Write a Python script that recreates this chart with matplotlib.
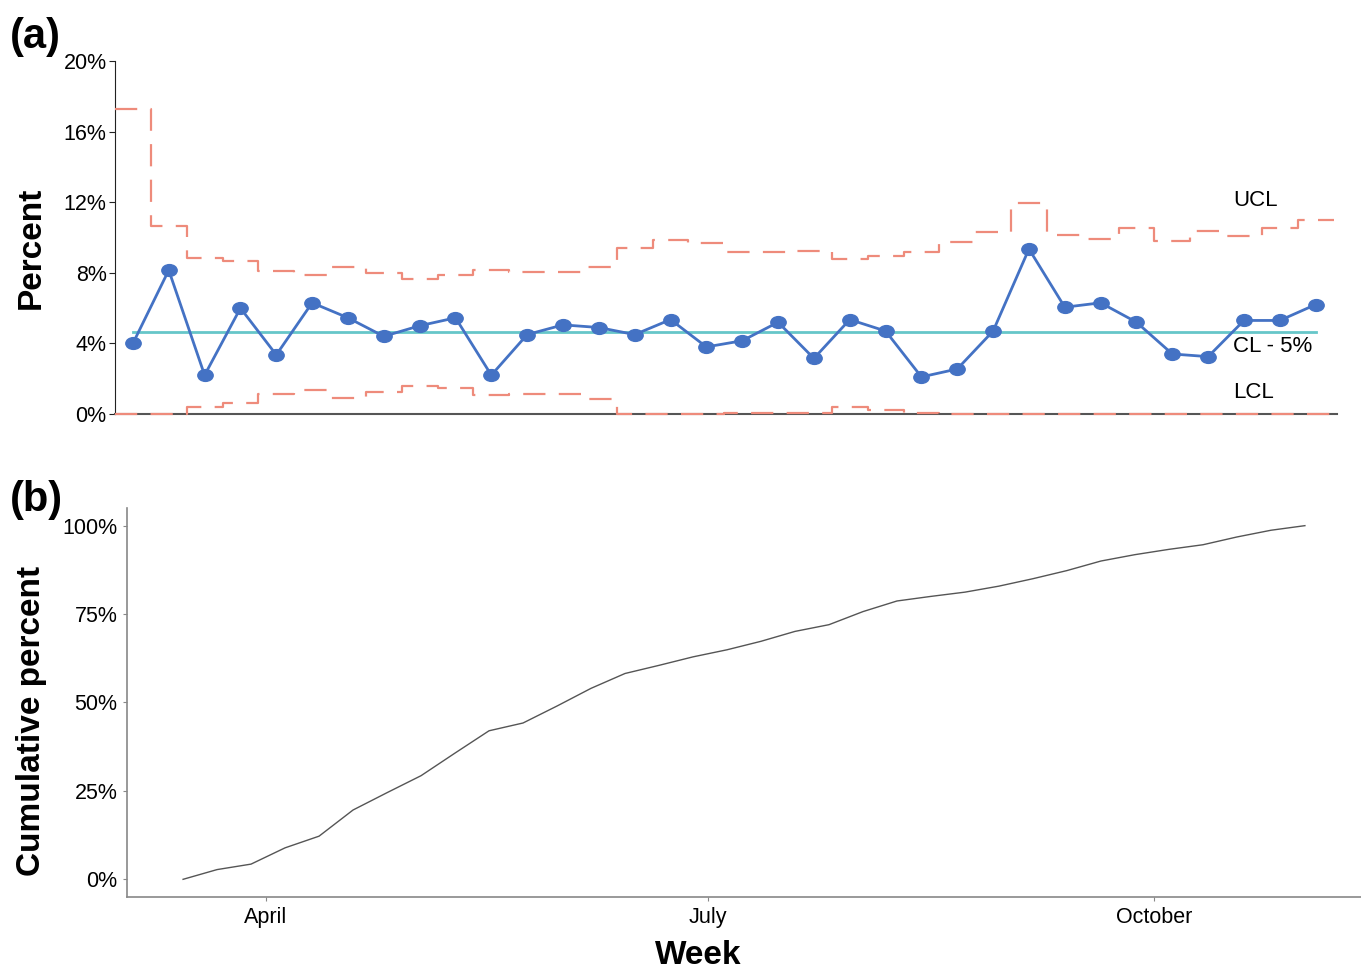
import numpy as np
import pandas as pd
import matplotlib
matplotlib.use("Agg")
import matplotlib.pyplot as plt
import matplotlib.dates as mdates
from matplotlib.markers import MarkerStyle
from matplotlib.transforms import Affine2D

plt.rcParams['font.family'] = ['Liberation Sans', 'DejaVu Sans']

# weekly p-chart data (percent)
week_idx = np.arange(1, 35)
pct = [4.0, 8.15, 2.2, 6.0, 3.35, 6.3, 5.45, 4.4, 5.0, 5.45,
       2.2, 4.5, 5.05, 4.9, 4.5, 5.35, 3.8, 4.15, 5.2, 3.15,
       5.35, 4.7, 2.1, 2.55, 4.7, 9.35, 6.05, 6.3, 5.2, 3.4,
       3.25, 5.3, 5.3, 6.2]
ucl = [17.3, 10.65, 8.85, 8.65, 8.1, 7.9, 8.35, 8.0, 7.65, 7.9,
       8.15, 8.05, 8.05, 8.35, 9.4, 9.85, 9.7, 9.2, 9.2, 9.25,
       8.8, 8.95, 9.2, 9.75, 10.3, 11.95, 10.15, 9.9, 10.55, 9.8,
       10.35, 10.1, 10.55, 11.0]
lcl = [0, 0, 0.4, 0.6, 1.15, 1.35, 0.9, 1.25, 1.6, 1.45,
       1.05, 1.15, 1.15, 0.85, 0, 0, 0, 0.05, 0.05, 0.05,
       0.4, 0.25, 0.05, 0, 0, 0, 0, 0, 0, 0,
       0, 0, 0, 0]
cl = 4.63

# cumulative percent by week
weeks = pd.date_range('2020-03-15', periods=34, freq='7D')
cum_pct = [0, 2.75, 4.3, 8.9, 12.2, 19.6, 24.5, 29.3, 35.7, 42.0,
           44.2, 49.0, 54.0, 58.2, 60.5, 62.9, 64.9, 67.3, 70.1, 72.0,
           75.7, 78.7, 80.0, 81.2, 82.9, 85.0, 87.3, 90.0, 91.8, 93.3,
           94.6, 96.8, 98.7, 100]

salmon = '#EE8B7B'
blue = '#4472C4'
teal = '#66C6C9'

fig = plt.figure(figsize=(13.61, 9.75), dpi=100)

# ---------- (a) p-chart ----------
ax1 = fig.add_axes([0.0845, 0.5754, 0.898, 0.362])
edges = np.append(week_idx - 0.5, week_idx[-1] + 0.5)
ax1.step(edges, ucl + [ucl[-1]], where='post', color=salmon, lw=1.6,
         dashes=(10, 6), zorder=3)
ax1.step(edges, lcl + [lcl[-1]], where='post', color=salmon, lw=1.6,
         dashes=(10, 6), zorder=3, clip_on=False)
ax1.plot([week_idx[0], week_idx[-1]], [cl, cl], color=teal, lw=2, zorder=2)
oval = MarkerStyle('o', transform=Affine2D().scale(1.3, 1.0))
ax1.plot(week_idx, pct, color=blue, lw=2, marker=oval, ms=8.5,
         markeredgecolor=blue, zorder=4)

ax1.text(31.7, 12.1, 'UCL', fontsize=16, va='center')
ax1.text(31.7, 3.8, 'CL - 5%', fontsize=16, va='center')
ax1.text(31.7, 1.2, 'LCL', fontsize=16, va='center')

ax1.set_xlim(0.5, 34.6)
ax1.set_ylim(0, 20)
ax1.set_yticks([0, 4, 8, 12, 16, 20])
ax1.set_yticklabels([f'{v}%' for v in [0, 4, 8, 12, 16, 20]])
ax1.set_xticks([])
for s in ['top', 'right']:
    ax1.spines[s].set_visible(False)
ax1.spines['left'].set_color('#222222')
ax1.spines['bottom'].set_color('#555555')
ax1.spines['bottom'].set_linewidth(1.5)
ax1.tick_params(axis='y', labelsize=15.5, length=4, color='#222222', pad=2)
ax1.set_ylabel('Percent', fontsize=24, fontweight='bold')
ax1.yaxis.set_label_coords(-0.056, 0.47)

# ---------- (b) cumulative ----------
ax2 = fig.add_axes([0.0933, 0.08, 0.9067, 0.399])
ax2.plot(weeks, cum_pct, color='#555555', lw=1)
span = weeks[-1] - weeks[0]
ax2.set_xlim(weeks[0] - span * 0.05, weeks[-1] + span * 0.05)
ax2.set_ylim(-5, 105)
ax2.set_yticks([0, 25, 50, 75, 100])
ax2.set_yticklabels([f'{v}%' for v in [0, 25, 50, 75, 100]])
ax2.xaxis.set_major_locator(mdates.MonthLocator(bymonth=[4, 7, 10]))
ax2.xaxis.set_major_formatter(mdates.DateFormatter('%B'))
for s in ['top', 'right']:
    ax2.spines[s].set_visible(False)
for s in ['left', 'bottom']:
    ax2.spines[s].set_color('#888888')
    ax2.spines[s].set_linewidth(1.2)
ax2.tick_params(labelsize=15.5, length=3, color='#888888', pad=4)
ax2.set_ylabel('Cumulative percent', fontsize=24, fontweight='bold')
ax2.yaxis.set_label_coords(-0.065, 0.452)
ax2.set_xlabel('Week', fontsize=24, fontweight='bold')
ax2.xaxis.set_label_coords(0.463, -0.11)

fig.text(0.007, 0.962, '(a)', fontsize=30, fontweight='bold', va='center')
fig.text(0.007, 0.487, '(b)', fontsize=30, fontweight='bold', va='center')

fig.savefig('out.png', dpi=100, facecolor='white')
